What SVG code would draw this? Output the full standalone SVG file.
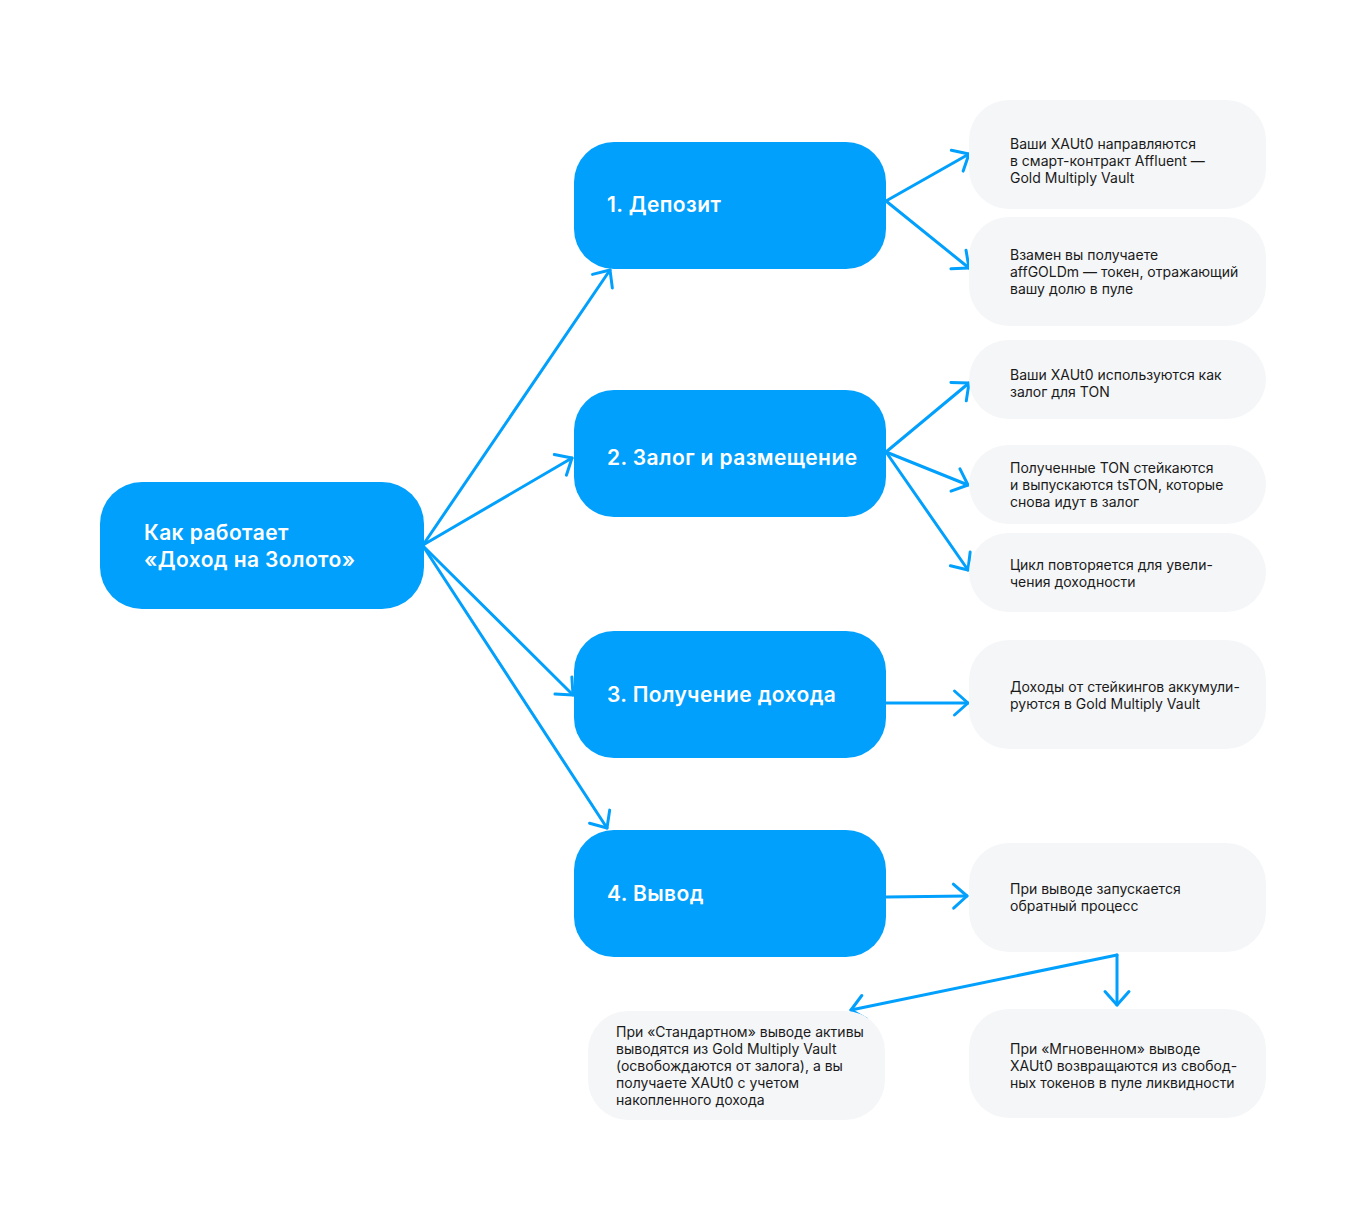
<svg xmlns="http://www.w3.org/2000/svg" width="1370" height="1219" viewBox="0 0 1370 1219">
<defs>
<style>
.blue{fill:#02A0FD}
.grey{fill:#F5F6F8}
.t{font-family:Inter,"Noto Sans","DejaVu Sans",sans-serif;font-size:14px;fill:#1A1A1A}
.h{font-family:Inter,"Noto Sans","DejaVu Sans",sans-serif;font-size:21px;font-weight:600;letter-spacing:0.4px;fill:#FFFFFF}
.c{fill:none;stroke:#02A0FD;stroke-width:3;stroke-linecap:round;stroke-linejoin:round}
</style>
<marker id="ah" markerUnits="userSpaceOnUse" markerWidth="40" markerHeight="40" viewBox="-20 -20 40 40" refX="0" refY="0" orient="auto">
<path d="M-13.5,-12 L0,0 L-13.5,12" fill="none" stroke="#02A0FD" stroke-width="3" stroke-linecap="round" stroke-linejoin="round"/>
</marker>
</defs>
<rect width="1370" height="1219" fill="#FFFFFF"/>
<g id="connectors">
<path class="c" marker-end="url(#ah)" d="M423,545 L610,270"/>
<path class="c" marker-end="url(#ah)" d="M423,545 L572,458"/>
<path class="c" marker-end="url(#ah)" d="M423,546 L573,695"/>
<path class="c" marker-end="url(#ah)" d="M423,546 L607,828"/>
<path class="c" marker-end="url(#ah)" d="M886,201 L969,154"/>
<path class="c" marker-end="url(#ah)" d="M886,201 L969,268"/>
<path class="c" marker-end="url(#ah)" d="M886,452 L969,383"/>
<path class="c" marker-end="url(#ah)" d="M886,452 L968,485"/>
<path class="c" marker-end="url(#ah)" d="M886,452 L968,570"/>
<path class="c" marker-end="url(#ah)" d="M886,703 L968,703"/>
<path class="c" marker-end="url(#ah)" d="M886,897 L967,896"/>
<path class="c" marker-end="url(#ah)" d="M1117,955 L1117,1005"/>
<path class="c" marker-end="url(#ah)" d="M1117,955 L851,1010"/>
</g>
<g id="main">
<rect class="blue" x="100" y="482" width="324" height="127" rx="42"/>
<text class="h" x="144" y="540">Как работает</text>
<text class="h" x="144" y="567">«Доход на Золото»</text>
</g>
<g id="step1">
<rect class="blue" x="574" y="142" width="312" height="127" rx="40"/>
<text class="h" x="607" y="212">1. Депозит</text>
</g>
<g id="step2">
<rect class="blue" x="574" y="390" width="312" height="127" rx="40"/>
<text class="h" x="607" y="465">2. Залог и размещение</text>
</g>
<g id="step3">
<rect class="blue" x="574" y="631" width="312" height="127" rx="40"/>
<text class="h" x="607" y="702">3. Получение дохода</text>
</g>
<g id="step4">
<rect class="blue" x="574" y="830" width="312" height="127" rx="40"/>
<text class="h" x="607" y="901">4. Вывод</text>
</g>
<g id="box1">
<rect class="grey" x="969" y="100" width="297" height="109" rx="40"/>
<text class="t" x="1010" y="149">Ваши XAUt0 направляются</text>
<text class="t" x="1010" y="166">в смарт-контракт Affluent —</text>
<text class="t" x="1010" y="183">Gold Multiply Vault</text>
</g>
<g id="box2">
<rect class="grey" x="969" y="217" width="297" height="109" rx="40"/>
<text class="t" x="1010" y="260">Взамен вы получаете</text>
<text class="t" x="1010" y="277">affGOLDm — токен, отражающий</text>
<text class="t" x="1010" y="294">вашу долю в пуле</text>
</g>
<g id="box3">
<rect class="grey" x="969" y="340" width="297" height="79" rx="39.5"/>
<text class="t" x="1010" y="380">Ваши XAUt0 используются как</text>
<text class="t" x="1010" y="397">залог для TON</text>
</g>
<g id="box4">
<rect class="grey" x="969" y="445" width="297" height="79" rx="39.5"/>
<text class="t" x="1010" y="473">Полученные TON стейкаются</text>
<text class="t" x="1010" y="490">и выпускаются tsTON, которые</text>
<text class="t" x="1010" y="507">снова идут в залог</text>
</g>
<g id="box5">
<rect class="grey" x="969" y="533" width="297" height="79" rx="39.5"/>
<text class="t" x="1010" y="570">Цикл повторяется для увели-</text>
<text class="t" x="1010" y="587">чения доходности</text>
</g>
<g id="box6">
<rect class="grey" x="969" y="640" width="297" height="109" rx="40"/>
<text class="t" x="1010" y="692">Доходы от стейкингов аккумули-</text>
<text class="t" x="1010" y="709">руются в Gold Multiply Vault</text>
</g>
<g id="box7">
<rect class="grey" x="969" y="843" width="297" height="109" rx="40"/>
<text class="t" x="1010" y="894">При выводе запускается</text>
<text class="t" x="1010" y="911">обратный процесс</text>
</g>
<g id="box8">
<rect class="grey" x="588" y="1011" width="297" height="109" rx="40"/>
<text class="t" x="616" y="1037">При «Стандартном» выводе активы</text>
<text class="t" x="616" y="1054">выводятся из Gold Multiply Vault</text>
<text class="t" x="616" y="1071">(освобождаются от залога), а вы</text>
<text class="t" x="616" y="1088">получаете XAUt0 с учетом</text>
<text class="t" x="616" y="1105">накопленного дохода</text>
</g>
<g id="box9">
<rect class="grey" x="969" y="1009" width="297" height="109" rx="40"/>
<text class="t" x="1010" y="1054">При «Мгновенном» выводе</text>
<text class="t" x="1010" y="1071">XAUt0 возвращаются из свобод-</text>
<text class="t" x="1010" y="1088">ных токенов в пуле ликвидности</text>
</g>
</svg>
